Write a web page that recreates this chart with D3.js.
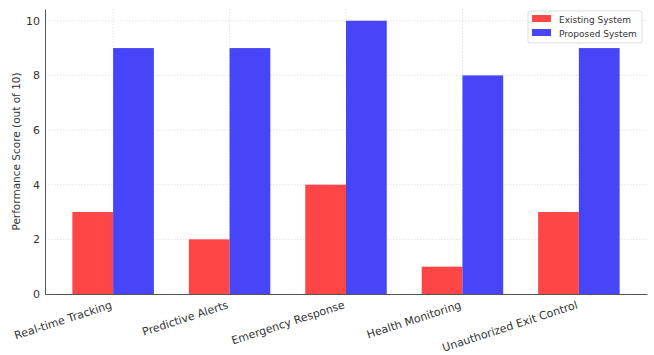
<!DOCTYPE html>
<html><head><meta charset="utf-8">
<script src="https://cdn.jsdelivr.net/npm/d3@7"></script>
<style>
html,body{margin:0;padding:0;background:#fff;}
text{font-family:"DejaVu Sans",sans-serif;fill:#333;}
</style></head>
<body><svg id="c" width="654" height="355"></svg>
<script>
const categories = ["Real-time Tracking","Predictive Alerts","Emergency Response","Health Monitoring","Unauthorized Exit Control"];
const existing = [3,2,4,1,3];
const proposed = [9,9,10,8,9];
const seriesNames = ["Existing System","Proposed System"];
const yTicks = [0,2,4,6,8,10];

(function(){
const svg = d3.select("#c");
const colors = ["rgb(255,70,70)","rgb(70,70,248)"];
const pl = 45, pr = 647, pt = 9, pb = 294;
const barW = 0.35;
const x = d3.scaleLinear().domain([-0.585, 4.585]).range([pl, pr]);
const y = d3.scaleLinear().domain([0, 10.43]).range([pb, pt]);

// grid
const g = svg.append("g");
g.selectAll(".hg").data(yTicks).join("line")
  .attr("x1", pl).attr("x2", pr)
  .attr("y1", d => y(d)).attr("y2", d => y(d))
  .attr("stroke", "#ddd").attr("stroke-width", 0.8).attr("stroke-dasharray", "1.5,1.5");
g.selectAll(".vg").data(categories).join("line")
  .attr("x1", (d,i) => x(i)).attr("x2", (d,i) => x(i))
  .attr("y1", pt).attr("y2", pb)
  .attr("stroke", "#ddd").attr("stroke-width", 0.8).attr("stroke-dasharray", "1.5,1.5");

// bars
const series = [existing, proposed];
series.forEach((vals, s) => {
  svg.append("g").selectAll("rect").data(vals).join("rect")
    .attr("x", (d,i) => x(i + (s === 0 ? -barW : 0)))
    .attr("width", x(barW) - x(0))
    .attr("y", d => y(d))
    .attr("height", d => y(0) - y(d))
    .attr("fill", colors[s]);
});

// axes
const yAxis = svg.append("g").attr("transform", `translate(${pl},0)`)
  .call(d3.axisLeft(y).tickValues(yTicks).tickSize(0).tickPadding(5));
yAxis.select(".domain").attr("stroke", "#555").attr("stroke-width", 1);
yAxis.selectAll("text").attr("font-size", 11).style("font-family", "DejaVu Sans").attr("fill", "#333");

const xAxis = svg.append("g").attr("transform", `translate(0,${pb})`)
  .call(d3.axisBottom(x).tickValues(d3.range(categories.length)).tickFormat((d) => categories[d]).tickSize(0).tickPadding(0));
xAxis.select(".domain").attr("stroke", "#555").attr("stroke-width", 1);
xAxis.selectAll("text")
  .attr("font-size", 11).style("font-family", "DejaVu Sans").attr("fill", "#333")
  .attr("text-anchor", "end").attr("dy", 0)
  .attr("transform", "translate(-1,14) rotate(-18)");

svg.append("text")
  .attr("transform", `translate(20,${(pt + pb) / 2}) rotate(-90)`)
  .attr("text-anchor", "middle").attr("font-size", 10.5)
  .text("Performance Score (out of 10)");

// legend
const lg = svg.append("g").attr("transform", "translate(528,11)");
lg.append("rect").attr("width", 114).attr("height", 32).attr("rx", 2)
  .attr("fill", "#fff").attr("fill-opacity", 0.85).attr("stroke", "#ddd");
seriesNames.forEach((n, i) => {
  lg.append("rect").attr("x", 4).attr("y", 4 + i * 14).attr("width", 19).attr("height", 7).attr("fill", colors[i]);
  lg.append("text").attr("x", 31).attr("y", 11.5 + i * 14).attr("font-size", 9).text(n);
});
})();
</script></body></html>
